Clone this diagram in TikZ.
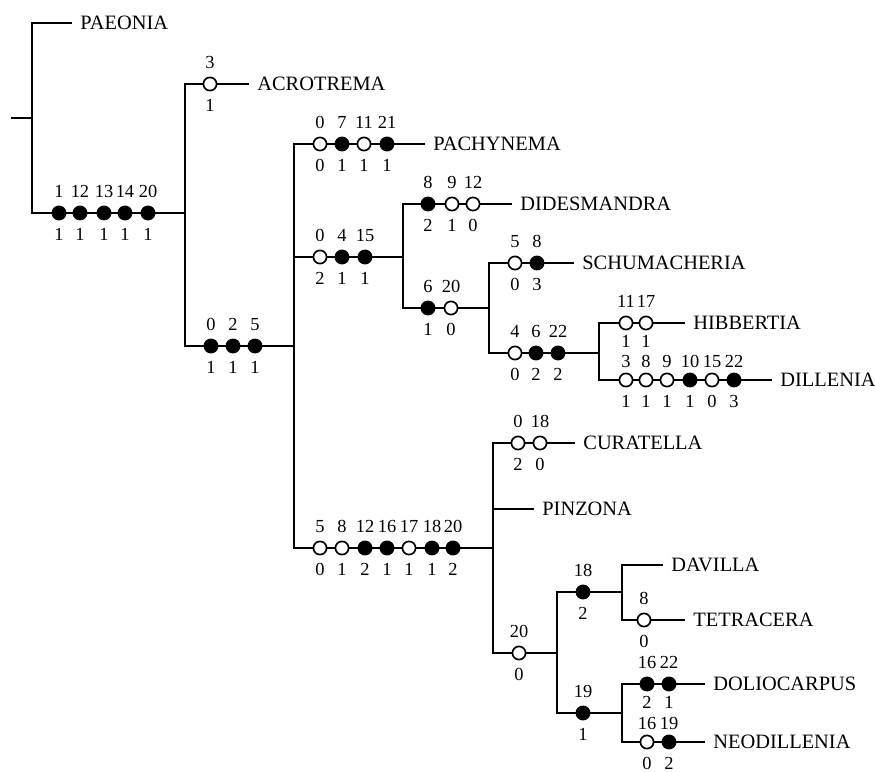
\documentclass[tikz,border=0pt]{standalone}
\usepackage{fontspec}
\setmainfont{Liberation Serif}
\begin{document}
\begin{tikzpicture}[x=0.5pt,y=-0.5pt,
  br/.style={line width=0.85pt},
  op/.style={circle,draw,line width=0.85pt,fill=white,minimum size=6.6pt,inner sep=0pt},
  cl/.style={op,fill=black},
  tight/.style={label distance=2.4pt},
  taxon/.style={anchor=west,inner xsep=4pt,inner ysep=0pt,font=\fontsize{10.2}{12}\selectfont},
  every label/.style={inner sep=0pt,font=\fontsize{9.2}{11}\selectfont},
  label distance=3.8pt]
\useasboundingbox (0,0) rectangle (875,772);
% ---------- junction coordinates ----------
\coordinate (r0) at (11,118);
\coordinate (r) at (32,118);
\coordinate (n1) at (185,213);
\coordinate (n2) at (294,346);
\coordinate (n3) at (403,257);
\coordinate (n4) at (489,308);
\coordinate (n5) at (599,353);
\coordinate (n6) at (493,548);
\coordinate (n7) at (557,653);
\coordinate (n8) at (622,592);
\coordinate (n9) at (622,713);
% ---------- taxa ----------
\node[taxon] (tPae) at (72,23) {PAEONIA};
\node[taxon] (tAcr) at (249,84) {ACROTREMA};
\node[taxon] (tPac) at (425,144) {PACHYNEMA};
\node[taxon] (tDid) at (512,204) {DIDESMANDRA};
\node[taxon] (tSch) at (574,263) {SCHUMACHERIA};
\node[taxon] (tHib) at (685,323) {HIBBERTIA};
\node[taxon] (tDil) at (772,380) {DILLENIA};
\node[taxon] (tCur) at (575,443) {CURATELLA};
\node[taxon] (tPin) at (534,509) {PINZONA};
\node[taxon] (tDav) at (663,565) {DAVILLA};
\node[taxon] (tTet) at (685,620) {TETRACERA};
\node[taxon] (tDol) at (705,684) {DOLIOCARPUS};
\node[taxon] (tNeo) at (705,742) {NEODILLENIA};
% ---------- character states ----------
% stem of ingroup
\node[cl,label=above:1,label=below:1] (b1) at (59,213) {};
\node[cl,label=above:12,label=below:1] (b2) at (80,213) {};
\node[cl,label=above:13,label=below:1] (b3) at (104,213) {};
\node[cl,label=above:14,label=below:1] (b4) at (125,213) {};
\node[cl,label=above:20,label=below:1] (b5) at (148,213) {};
% Acrotrema
\node[op,label=above:3,label=below:1] (a1) at (210,84) {};
% 0 2 5
\node[cl,label=above:0,label=below:1] (c1) at (211,346) {};
\node[cl,label=above:2,label=below:1] (c2) at (233,346) {};
\node[cl,label=above:5,label=below:1] (c3) at (255,346) {};
% Pachynema
\node[op,label=above:0,label=below:0] (p1) at (320,144) {};
\node[cl,label=above:7,label=below:1] (p2) at (342,144) {};
\node[op,label=above:11,label=below:1] (p3) at (364,144) {};
\node[cl,label=above:21,label=below:1] (p4) at (387,144) {};
% 0 4 15
\node[op,label=above:0,label=below:2] (d1) at (320,257) {};
\node[cl,label=above:4,label=below:1] (d2) at (342,257) {};
\node[cl,label=above:15,label=below:1] (d3) at (365,257) {};
% Didesmandra
\node[cl,label=above:8,label=below:2] (e1) at (428,204) {};
\node[op,label=above:9,label=below:1] (e2) at (452,204) {};
\node[op,label=above:12,label=below:0] (e3) at (473,204) {};
% 6 20
\node[cl,label=above:6,label=below:1] (f1) at (428,308) {};
\node[op,label=above:20,label=below:0] (f2) at (451,308) {};
% Schumacheria
\node[op,label=above:5,label=below:0] (s1) at (515,263) {};
\node[cl,label=above:8,label=below:3] (s2) at (537,263) {};
% 4 6 22
\node[op,label=above:4,label=below:0] (g1) at (515,353) {};
\node[cl,label=above:6,label=below:2] (g2) at (536,353) {};
\node[cl,label=above:22,label=below:2] (g3) at (558,353) {};
% Hibbertia
\node[op,label=above:11,label={[tight]below:1}] (h1) at (626,323) {};
\node[op,label=above:17,label={[tight]below:1}] (h2) at (646,323) {};
% Dillenia
\node[op,label={[tight]above:3},label=below:1] (l1) at (626,380) {};
\node[op,label={[tight]above:8},label=below:1] (l2) at (646,380) {};
\node[op,label={[tight]above:9},label=below:1] (l3) at (667,380) {};
\node[cl,label={[tight]above:10},label=below:1] (l4) at (690,380) {};
\node[op,label={[tight]above:15},label=below:0] (l5) at (712,380) {};
\node[cl,label={[tight]above:22},label=below:3] (l6) at (734,380) {};
% 5 8 12 16 17 18 20
\node[op,label=above:5,label=below:0] (k1) at (320,548) {};
\node[op,label=above:8,label=below:1] (k2) at (342,548) {};
\node[cl,label=above:12,label=below:2] (k3) at (365,548) {};
\node[cl,label=above:16,label=below:1] (k4) at (387,548) {};
\node[op,label=above:17,label=below:1] (k5) at (409,548) {};
\node[cl,label=above:18,label=below:1] (k6) at (432,548) {};
\node[cl,label=above:20,label=below:2] (k7) at (453,548) {};
% Curatella
\node[op,label=above:0,label=below:2] (u1) at (518,443) {};
\node[op,label=above:18,label=below:0] (u2) at (540,443) {};
% 20
\node[op,label=above:20,label=below:0] (m1) at (519,653) {};
% 18
\node[cl,label=above:18,label=below:2] (q1) at (583,592) {};
% Tetracera
\node[op,label=above:8,label=below:0] (t1) at (644,620) {};
% 19
\node[cl,label=above:19,label=below:1] (v1) at (583,713) {};
% Doliocarpus
\node[cl,label=above:16,label={[tight]below:2}] (o1) at (647,684) {};
\node[cl,label=above:22,label={[tight]below:1}] (o2) at (669,684) {};
% Neodillenia
\node[op,label={[tight]above:16},label=below:0] (w1) at (647,742) {};
\node[cl,label={[tight]above:19},label=below:2] (w2) at (669,742) {};
% ---------- branches ----------
\draw[br] (r0) -- (r);
\draw[br] (tPae) -| (r) |- (b1) -- (b2) -- (b3) -- (b4) -- (b5) -- (n1);
\draw[br] (tAcr) -- (a1) -| (n1) |- (c1) -- (c2) -- (c3) -- (n2);
\draw[br] (tPac) -- (p4) -- (p3) -- (p2) -- (p1) -| (n2) |- (k1) -- (k2) -- (k3) -- (k4) -- (k5) -- (k6) -- (k7) -- (n6);
\draw[br] (n2) |- (d1) -- (d2) -- (d3) -- (n3);
\draw[br] (tDid) -- (e3) -- (e2) -- (e1) -| (n3) |- (f1) -- (f2) -- (n4);
\draw[br] (tSch) -- (s2) -- (s1) -| (n4) |- (g1) -- (g2) -- (g3) -- (n5);
\draw[br] (tHib) -- (h2) -- (h1) -| (n5) |- (l1) -- (l2) -- (l3) -- (l4) -- (l5) -- (l6) -- (tDil);
\draw[br] (tCur) -- (u2) -- (u1) -| (n6) |- (m1) -- (n7);
\draw[br] (n6) |- (tPin);
\draw[br] (q1) -| (n7) |- (v1);
\draw[br] (q1) -- (n8);
\draw[br] (tDav) -| (n8) |- (t1) -- (tTet);
\draw[br] (v1) -- (n9);
\draw[br] (tDol) -- (o2) -- (o1) -| (n9) |- (w1) -- (w2) -- (tNeo);
\end{tikzpicture}
\end{document}
